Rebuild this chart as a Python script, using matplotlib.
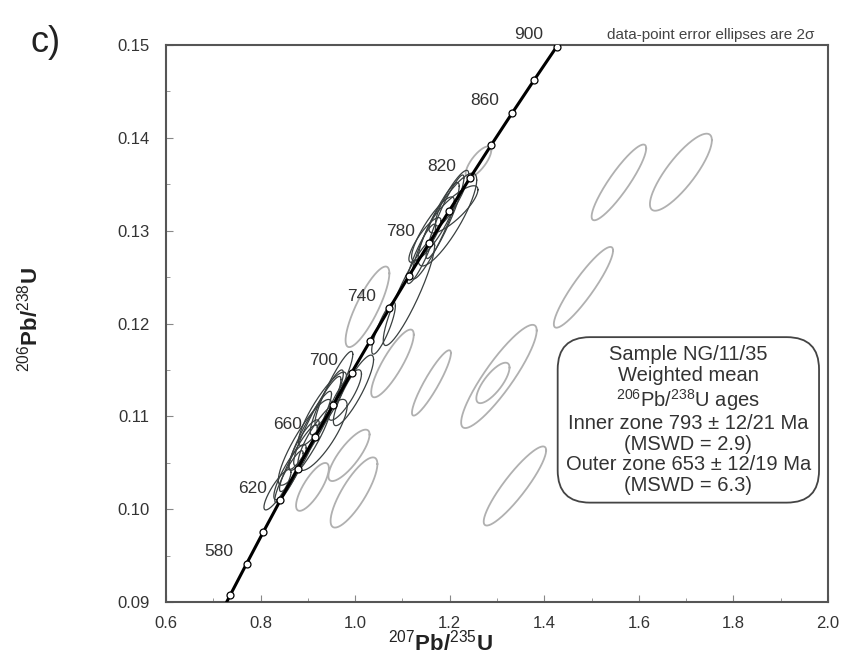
"""Concordia diagram (panel c) with 2-sigma data-point error ellipses."""

import numpy as np
import matplotlib

matplotlib.use("Agg")
import matplotlib.pyplot as plt

plt.rcParams["font.family"] = ["Liberation Sans", "DejaVu Sans"]
plt.rcParams["mathtext.fontset"] = "custom"
plt.rcParams["mathtext.rm"] = "Liberation Sans"
plt.rcParams["mathtext.it"] = "Liberation Sans:italic"
plt.rcParams["mathtext.bf"] = "Liberation Sans:bold"

# concordia ticks (Ma) and their 207Pb/235U, 206Pb/238U ratios
AGES = [540, 560, 580, 600, 620, 640, 660, 680, 700, 720, 740,
        760, 780, 800, 820, 840, 860, 880, 900, 920]
CONC_X = [0.7021, 0.7359, 0.7705, 0.8057, 0.8416, 0.8782, 0.9155, 0.9537,
          0.9925, 1.0322, 1.0726, 1.1138, 1.1559, 1.1987, 1.2425, 1.2871,
          1.3326, 1.3790, 1.4263, 1.4746]
CONC_Y = [0.08738, 0.09076, 0.09414, 0.09754, 0.10095, 0.10438, 0.10781,
          0.11125, 0.11470, 0.11817, 0.12164, 0.12513, 0.12862, 0.13213,
          0.13565, 0.13918, 0.14272, 0.14627, 0.14983, 0.15340]
LABEL_AGES = [580, 620, 660, 700, 740, 780, 820, 860, 900]

# near-concordant analyses (dark ellipses): centre, 2s half-extents, rho
DARK_X = [1.1950, 1.2078, 1.1645, 1.1476, 1.1137, 1.0600, 1.1900, 1.1700,
          1.2050, 1.1400,
          0.9309, 0.8939, 0.8918, 0.9309, 0.8622, 0.9784, 0.9964, 0.8357,
          0.9050, 0.8800, 0.9200, 0.8600, 0.9400, 0.9550]
DARK_Y = [0.1312, 0.1323, 0.1302, 0.1290, 0.1233, 0.1195, 0.1315, 0.1300,
          0.1335, 0.1275,
          0.1108, 0.1072, 0.1069, 0.1080, 0.1040, 0.1123, 0.1128, 0.1021,
          0.1085, 0.1055, 0.1095, 0.1035, 0.1115, 0.1130]
DARK_SX = [0.0620, 0.0518, 0.0452, 0.0340, 0.0543, 0.0250, 0.0400, 0.0500,
           0.0350, 0.0300,
           0.0507, 0.0564, 0.0323, 0.0522, 0.0342, 0.0349, 0.0425, 0.0286,
           0.0450, 0.0400, 0.0500, 0.0300, 0.0350, 0.0400]
DARK_SY = [0.00500, 0.00254, 0.00344, 0.00241, 0.00567, 0.00280, 0.00450, 0.00520,
           0.00300, 0.00320,
           0.00397, 0.00462, 0.00272, 0.00383, 0.00298, 0.00272, 0.00380, 0.00218,
           0.00420, 0.00360, 0.00480, 0.00280, 0.00350, 0.00400]
DARK_RHO = [0.85, 0.83, 0.87, 0.85, 0.90, 0.85, 0.93, 0.92, 0.88, 0.90,
            0.88, 0.88, 0.85, 0.82, 0.87, 0.83, 0.87, 0.86,
            0.93, 0.92, 0.93, 0.90, 0.90, 0.92]

# discordant analyses (light grey ellipses)
LIGHT_X = [1.0260, 1.0789, 0.9975, 0.9869, 0.9097, 1.1613, 1.3040,
           1.2913, 1.3378, 1.4827, 1.5577, 1.6888, 1.2607]
LIGHT_Y = [0.1218, 0.1157, 0.1018, 0.1058, 0.1024, 0.1136, 0.1143,
           0.1136, 0.1025, 0.1239, 0.1352, 0.1363, 0.1374]
LIGHT_SX = [0.0463, 0.0450, 0.0495, 0.0435, 0.0347, 0.0412, 0.0799,
            0.0351, 0.0660, 0.0626, 0.0577, 0.0655, 0.0271]
LIGHT_SY = [0.00434, 0.00365, 0.00378, 0.00277, 0.00258, 0.00352, 0.00556,
            0.00218, 0.00426, 0.00435, 0.00408, 0.00415, 0.00168]
LIGHT_RHO = [0.83, 0.85, 0.81, 0.81, 0.78, 0.91, 0.89,
             0.76, 0.90, 0.91, 0.90, 0.83, 0.75]

BOX_LINES = [
    "Sample NG/11/35",
    "Weighted mean",
    r"$^{206}$Pb/$^{238}$U ages",
    "Inner zone 793 \u00b1 12/21 Ma",
    "(MSWD = 2.9)",
    "Outer zone 653 \u00b1 12/19 Ma",
    "(MSWD = 6.3)",
]


def draw_ellipses(ax, xs, ys, sxs, sys_, rhos, color, lw):
    t = np.linspace(0, 2 * np.pi, 200)
    for x, y, sx, sy, rho in zip(xs, ys, sxs, sys_, rhos):
        ex = x + sx * np.cos(t)
        ey = y + sy * (rho * np.cos(t) + np.sqrt(1 - rho ** 2) * np.sin(t))
        ax.plot(ex, ey, color=color, lw=lw, zorder=2)


fig = plt.figure(figsize=(8.44, 6.62), dpi=100)
ax = fig.add_axes([0.1967, 0.0906, 0.7844, 0.8414])

draw_ellipses(ax, LIGHT_X, LIGHT_Y, LIGHT_SX, LIGHT_SY, LIGHT_RHO, "#b0b0b0", 1.3)
draw_ellipses(ax, DARK_X, DARK_Y, DARK_SX, DARK_SY, DARK_RHO, "#3a4040", 0.9)

ax.plot(CONC_X, CONC_Y, color="black", lw=2.2, zorder=3)
ax.plot(CONC_X, CONC_Y, "o", ms=5, mfc="white", mec="black", mew=0.9, zorder=4)

for age, cx, cy in zip(AGES, CONC_X, CONC_Y):
    if age in LABEL_AGES:
        ax.annotate(str(age), (cx, cy), xytext=(-28, 12), textcoords="offset pixels",
                    ha="center", va="center", fontsize=12.5, color="#333333",
                    zorder=5, annotation_clip=False)

ax.set_xlim(0.6, 2.0)
ax.set_ylim(0.09, 0.15)
ax.set_xticks([0.6, 0.8, 1.0, 1.2, 1.4, 1.6, 1.8, 2.0])
ax.set_xticks(np.arange(0.6, 2.01, 0.1), minor=True)
ax.set_yticks([0.09, 0.10, 0.11, 0.12, 0.13, 0.14, 0.15])
ax.set_yticks(np.arange(0.09, 0.1501, 0.005), minor=True)
ax.xaxis.set_major_formatter(matplotlib.ticker.FormatStrFormatter("%.1f"))
ax.yaxis.set_major_formatter(matplotlib.ticker.FormatStrFormatter("%.2f"))
ax.tick_params(which="both", direction="in", colors="#888888", labelcolor="#333333",
               labelsize=12)
ax.tick_params(which="major", length=5)
ax.tick_params(which="minor", length=3)
ax.tick_params(axis="x", pad=10)
ax.tick_params(axis="y", pad=12)
for spine in ax.spines.values():
    spine.set_color("#555555")
    spine.set_linewidth(1.5)

fig.text(440 / 844, 1 - 643 / 662, r"$^{207}$Pb/$^{235}$U", ha="center", va="center",
         fontsize=16, fontweight="bold", color="#222222")
fig.text(30 / 844, 1 - 320 / 662, r"$^{206}$Pb/$^{238}$U", ha="center", va="center",
         rotation=90, fontsize=16, fontweight="bold", color="#222222")
fig.text(30 / 844, 1 - 42 / 662, "c)", ha="left", va="center", fontsize=26,
         color="#222222")
ax.text(0.98, 1.005, "data-point error ellipses are 2\u03c3", transform=ax.transAxes,
        ha="right", va="bottom", fontsize=11, color="#444444")

ax.text(0.789, 0.327, "\n".join(BOX_LINES), transform=ax.transAxes, ha="center",
        va="center", fontsize=14.5, color="#333333", linespacing=1.1, zorder=6,
        bbox=dict(boxstyle="round,pad=0.4,rounding_size=1.6", fc="white",
                  ec="#444444", lw=1.3))

fig.savefig("out.png", dpi=100)
